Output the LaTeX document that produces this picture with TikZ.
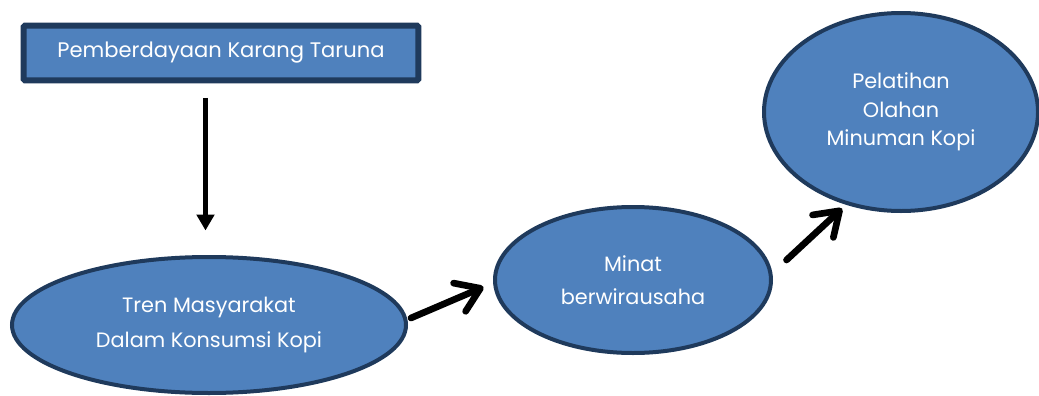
\documentclass[tikz,border=0pt]{standalone}
\usepackage{fontspec}
\setmainfont{Poppins}
\usepackage{xcolor}
\usepackage{tikz}
\usetikzlibrary{arrows.meta,shapes.geometric}
\definecolor{fillblue}{HTML}{4F81BD}
\definecolor{navy}{HTML}{1F3A5C}
\tikzset{
  box/.style={draw=navy, fill=fillblue, line width=4.5pt, rounded corners=1pt, minimum width=296pt, minimum height=41pt, inner sep=0pt},
  oval/.style={ellipse, draw=navy, fill=fillblue, line width=3pt, inner sep=0pt, align=center},
  every node/.style={text=white, font=\fontsize{15.8}{20}\selectfont},
  thin/.style={line width=3.4pt, -{Triangle[length=12pt,width=13pt]}},
  thick/.style={line width=5pt, line cap=round, -{Straight Barb[round,length=17pt,width=23pt]}}
}
\begin{document}
\begin{tikzpicture}[x=0.75pt,y=-0.75pt]
  \useasboundingbox (0,0) rectangle (1039,396);

  \node[box] (K) at (221,53) {Pemberdayaan Karang Taruna};
  \node[oval, minimum width=295.5pt, minimum height=102pt,
        font=\fontsize{15.6}{26}\selectfont] (T) at (209,325) {Tren Masyarakat\\Dalam Konsumsi Kopi};
  \node[oval, minimum width=207pt, minimum height=109.5pt,
        font=\fontsize{15.6}{25}\selectfont] (W) at (633,280) {Minat\\berwirausaha};
  \node[oval, minimum width=205.5pt, minimum height=148.5pt,
        font=\fontsize{15.6}{21.5}\selectfont] (P) at (901,112) {Pelatihan\\Olahan\\Minuman Kopi};

  \draw[thin] ([shift={(-15.5,14.5)}]K.south) -- ([shift={(-3.5,-24.5)}]T.north);
  \draw[thick] ([shift={(3,-7)}]T.east) -- ([shift={(-9.5,7)}]W.west);
  \draw[thick] ([shift={(13.5,-20)}]W.east) -- ([shift={(-59,-4.5)}]P.south);
\end{tikzpicture}
\end{document}
